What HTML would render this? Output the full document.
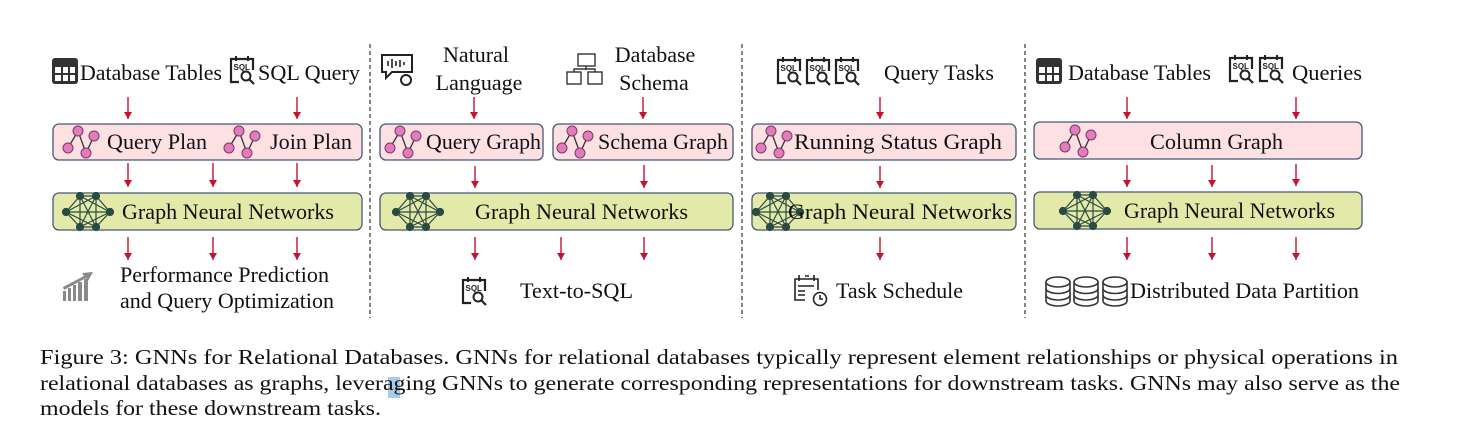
<!DOCTYPE html>
<html><head><meta charset="utf-8"><style>
html,body{margin:0;padding:0;background:#fff;}
svg{display:block;}
text{font-family:"Liberation Serif",serif;fill:#111;}
</style></head><body>
<svg width="1460" height="446" viewBox="0 0 1460 446" xmlns="http://www.w3.org/2000/svg">
<defs>
<marker id="ah" markerWidth="8" markerHeight="8" refX="7" refY="4" orient="auto" markerUnits="userSpaceOnUse">
<path d="M0,0 L7,4 L0,8 Z" fill="#c4122f"/>
</marker>
<g id="pg">
<path d="M0,0 L10,-17 L18,5 L26,-12" stroke="#333" stroke-width="1.3" fill="none"/>
<circle cx="0" cy="0" r="5" fill="#e27cbb" stroke="#7a3a66" stroke-width="1"/>
<circle cx="10" cy="-17" r="5" fill="#e27cbb" stroke="#7a3a66" stroke-width="1"/>
<circle cx="18" cy="5" r="5" fill="#e27cbb" stroke="#7a3a66" stroke-width="1"/>
<circle cx="26" cy="-12" r="5" fill="#e27cbb" stroke="#7a3a66" stroke-width="1"/>
</g>
<g id="gnn" stroke="#2a4a42" stroke-width="1.2" fill="#2a4a42">
<path d="M0,0 L14,-16 L30,-16 L44,0 L30,15 L14,15 Z M0,0 L30,-16 M0,0 L30,15 M14,-16 L44,0 M14,-16 L30,15 M14,-16 L14,15 M30,-16 L30,15 M14,15 L44,0 M30,-16 L14,15 M0,0 L44,0" fill="none"/>
<circle cx="0" cy="0" r="3.5"/><circle cx="14" cy="-16" r="3.5"/><circle cx="30" cy="-16" r="3.5"/>
<circle cx="44" cy="0" r="3.5"/><circle cx="30" cy="15" r="3.5"/><circle cx="14" cy="15" r="3.5"/>
</g>
<g id="tbl">
<rect x="0" y="0" width="26" height="26" rx="3" fill="#333"/>
<rect x="3" y="9" width="6" height="6" fill="#fff"/><rect x="11" y="9" width="5" height="6" fill="#fff"/><rect x="18" y="9" width="5" height="6" fill="#fff"/>
<rect x="3" y="17" width="6" height="6" fill="#fff"/><rect x="11" y="17" width="5" height="6" fill="#fff"/><rect x="18" y="17" width="5" height="6" fill="#fff"/>
</g>
<g id="sql">
<path d="M10,26 L2,26 L2,3 L24,3 L24,14" stroke="#222" stroke-width="2.2" fill="none"/>
<path d="M7,0 V5 M19,0 V5" stroke="#222" stroke-width="2"/>
<text x="4.5" y="14" style="font-family:'Liberation Sans',sans-serif;font-size:8px;font-weight:bold;fill:#222">SQL</text>
<circle cx="17" cy="20" r="4.5" stroke="#222" stroke-width="2" fill="none"/>
<path d="M20,23 L25,28" stroke="#222" stroke-width="2.2"/>
</g>
<g id="db" stroke="#333" stroke-width="1.6" fill="#fff">
<path d="M0,5 V24 A12,5 0 0 0 24,24 V5"/>
<ellipse cx="12" cy="5" rx="12" ry="5"/>
<path d="M0,11.5 A12,5 0 0 0 24,11.5 M0,18 A12,5 0 0 0 24,18" fill="none"/>
</g>
</defs>

<g stroke="#333" stroke-width="1.2" stroke-dasharray="4,3">
<line x1="370" y1="44" x2="370" y2="318"/>
<line x1="742" y1="44" x2="742" y2="318"/>
<line x1="1025" y1="44" x2="1025" y2="318"/>
</g>

<g stroke="#43587a" stroke-width="1.3">
<rect x="53" y="124" width="309" height="36" rx="6" fill="#fde0e2"/>
<rect x="53" y="193" width="309" height="37" rx="6" fill="#e3e9a9"/>
<rect x="380" y="124" width="163" height="36" rx="6" fill="#fde0e2"/>
<rect x="553" y="124" width="180" height="36" rx="6" fill="#fde0e2"/>
<rect x="380" y="193" width="353" height="37" rx="6" fill="#e3e9a9"/>
<rect x="752" y="124" width="264" height="36" rx="6" fill="#fde0e2"/>
<rect x="752" y="193" width="264" height="37" rx="6" fill="#e3e9a9"/>
<rect x="1034" y="122" width="328" height="37" rx="6" fill="#fde0e2"/>
<rect x="1034" y="192" width="328" height="37" rx="6" fill="#e3e9a9"/>
</g>

<g stroke="#c4122f" stroke-width="1.4" marker-end="url(#ah)">
<line x1="128" y1="97" x2="128" y2="119"/><line x1="297" y1="97" x2="297" y2="119"/>
<line x1="128" y1="163" x2="128" y2="187"/><line x1="213" y1="163" x2="213" y2="187"/><line x1="297" y1="163" x2="297" y2="187"/>
<line x1="128" y1="237" x2="128" y2="260"/><line x1="213" y1="237" x2="213" y2="260"/><line x1="297" y1="237" x2="297" y2="260"/>
<line x1="474" y1="97" x2="474" y2="119"/><line x1="643" y1="97" x2="643" y2="119"/>
<line x1="475" y1="166" x2="475" y2="188"/><line x1="644" y1="165" x2="644" y2="188"/>
<line x1="475" y1="237" x2="475" y2="260"/><line x1="561" y1="237" x2="561" y2="260"/><line x1="644" y1="237" x2="644" y2="260"/>
<line x1="880" y1="97" x2="880" y2="119"/><line x1="880" y1="166" x2="880" y2="188"/><line x1="880" y1="237" x2="880" y2="260"/>
<line x1="1127" y1="97" x2="1127" y2="119"/><line x1="1296" y1="97" x2="1296" y2="119"/>
<line x1="1127" y1="165" x2="1127" y2="187"/><line x1="1212" y1="165" x2="1212" y2="187"/><line x1="1296" y1="164" x2="1296" y2="186"/>
<line x1="1127" y1="237" x2="1127" y2="260"/><line x1="1212" y1="237" x2="1212" y2="260"/><line x1="1296" y1="237" x2="1296" y2="260"/>
</g>

<g font-size="22">
<use href="#tbl" x="52" y="58"/>
<text x="80" y="80" font-size="22" textLength="142" lengthAdjust="spacingAndGlyphs">Database Tables</text>
<use href="#sql" x="229" y="56"/>
<text x="258" y="80" font-size="22" textLength="102" lengthAdjust="spacingAndGlyphs">SQL Query</text>
<use href="#pg" x="68" y="148"/>
<text x="107" y="149" font-size="22" textLength="100" lengthAdjust="spacingAndGlyphs">Query Plan</text>
<use href="#pg" x="229" y="148"/>
<text x="270" y="149" font-size="22" textLength="82" lengthAdjust="spacingAndGlyphs">Join Plan</text>
<use href="#gnn" x="66" y="212"/>
<text x="122" y="219" font-size="22" textLength="212" lengthAdjust="spacingAndGlyphs">Graph Neural Networks</text>
<g fill="#8a8a8a">
<rect x="63" y="291" width="3" height="10"/><rect x="68" y="288" width="3" height="13"/><rect x="73" y="285" width="3" height="16"/><rect x="78" y="282" width="4" height="19"/><rect x="84" y="279" width="4" height="22"/>
<path d="M63,287 L84,276 L82,273 L93,272 L88,281 L86,278 L64,290 Z"/>
</g>
<text x="120" y="282" font-size="22" textLength="209" lengthAdjust="spacingAndGlyphs">Performance Prediction</text>
<text x="120" y="308" font-size="22" textLength="214" lengthAdjust="spacingAndGlyphs">and Query Optimization</text>

<g stroke="#222" stroke-width="2" fill="none">
<path d="M382,72 V55 H412 V72 H392 L386,78 V72 Z"/>
<path d="M388,66 V61 M392,68 V59 M396,66 V61 M400,67 V60 M404,65 V62" stroke-width="1.6"/>
<circle cx="406" cy="80" r="5"/>
</g>
<text x="476" y="62" font-size="22" text-anchor="middle">Natural</text>
<text x="479" y="90" font-size="22" text-anchor="middle">Language</text>
<g stroke="#333" stroke-width="1.4" fill="#fff">
<rect x="578" y="54" width="17" height="12"/><rect x="567" y="72" width="14" height="12"/><rect x="588" y="72" width="14" height="12"/>
<path d="M586,66 V70 M574,72 V69 H595 V72" fill="none"/>
</g>
<text x="655" y="62" font-size="22" text-anchor="middle">Database</text>
<text x="654" y="90" font-size="22" text-anchor="middle">Schema</text>
<use href="#pg" x="390" y="148"/>
<text x="426" y="149" font-size="22" textLength="115" lengthAdjust="spacingAndGlyphs">Query Graph</text>
<use href="#pg" x="562" y="148"/>
<text x="598" y="149" font-size="22" textLength="130" lengthAdjust="spacingAndGlyphs">Schema Graph</text>
<use href="#gnn" x="396" y="212"/>
<text x="475" y="219" font-size="22" textLength="213" lengthAdjust="spacingAndGlyphs">Graph Neural Networks</text>
<use href="#sql" x="461" y="277"/>
<text x="520" y="298" font-size="22" textLength="113" lengthAdjust="spacingAndGlyphs">Text-to-SQL</text>

<use href="#sql" x="776" y="57"/><use href="#sql" x="805" y="57"/><use href="#sql" x="834" y="57"/>
<text x="884" y="80" font-size="22" textLength="110" lengthAdjust="spacingAndGlyphs">Query Tasks</text>
<use href="#pg" x="761" y="148"/>
<text x="794" y="149" font-size="22" textLength="208" lengthAdjust="spacingAndGlyphs">Running Status Graph</text>
<use href="#gnn" x="756" y="212"/>
<text x="788" y="219" font-size="22" textLength="224" lengthAdjust="spacingAndGlyphs">Graph Neural Networks</text>
<g stroke="#222" stroke-width="1.6" fill="none">
<path d="M805,300 H795 V279 H818 V290"/>
<path d="M799,275 V281 M805,276 H809 M814,275 V281 M798,286 H814 M798,291 H805 M798,295 H805" />
<circle cx="820" cy="299" r="6.5" fill="#fff"/>
<path d="M820,295 V299 H823"/>
</g>
<text x="836" y="298" font-size="22" textLength="127" lengthAdjust="spacingAndGlyphs">Task Schedule</text>

<use href="#tbl" x="1036" y="58"/>
<text x="1068" y="80" font-size="22" textLength="143" lengthAdjust="spacingAndGlyphs">Database Tables</text>
<use href="#sql" x="1228" y="55"/><use href="#sql" x="1258" y="55"/>
<text x="1292" y="80" font-size="22" textLength="70" lengthAdjust="spacingAndGlyphs">Queries</text>
<use href="#pg" x="1065" y="147"/>
<text x="1150" y="149" font-size="22" textLength="133" lengthAdjust="spacingAndGlyphs">Column Graph</text>
<use href="#gnn" x="1063" y="211"/>
<text x="1124" y="218" font-size="22" textLength="211" lengthAdjust="spacingAndGlyphs">Graph Neural Networks</text>
<use href="#db" x="1046" y="277"/><use href="#db" x="1074" y="277"/><use href="#db" x="1103" y="277"/>
<text x="1130" y="298" font-size="22" textLength="229" lengthAdjust="spacingAndGlyphs">Distributed Data Partition</text>
</g>

<rect x="388" y="377" width="12" height="21" fill="#a8cbe8"/>
<text x="40" y="364" font-size="21" textLength="1358" lengthAdjust="spacingAndGlyphs">Figure 3: GNNs for Relational Databases. GNNs for relational databases typically represent element relationships or physical operations in</text>
<text x="40" y="390" font-size="21" textLength="1360" lengthAdjust="spacingAndGlyphs">relational databases as graphs, leveraging GNNs to generate corresponding representations for downstream tasks. GNNs may also serve as the</text>
<text x="40" y="415" font-size="21" textLength="341" lengthAdjust="spacingAndGlyphs">models for these downstream tasks.</text>
</svg>
</body></html>
